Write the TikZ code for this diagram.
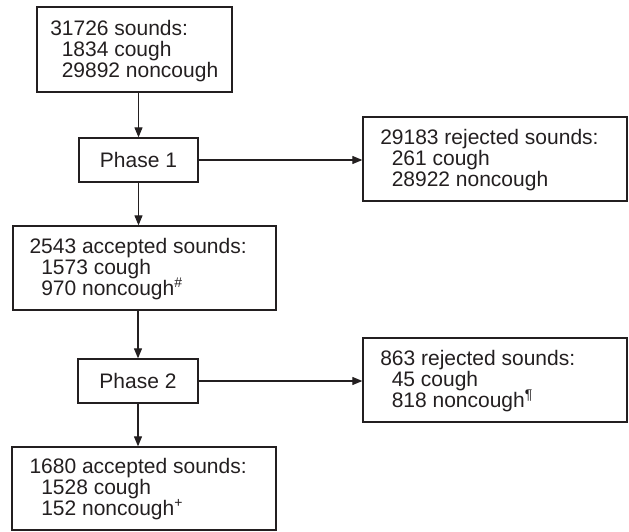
\documentclass[tikz,border=0pt]{standalone}
\usepackage{fontspec}
\setmainfont{Liberation Sans}
\usetikzlibrary{arrows.meta}
\definecolor{ink}{HTML}{231F20}
\tikzset{
  box/.style={draw=ink, line width=1.3pt, rectangle, inner sep=0pt},
  phasebox/.style={box, font=\fontsize{21}{21}\selectfont, text=ink},
  txt/.style={anchor=base west, inner sep=0pt, text=ink, font=\fontsize{21}{21}\selectfont},
  conn/.style={draw=ink, line width=1.1pt, -{Triangle[length=10pt,width=8pt]}}
}
\newcommand{\sups}[1]{\raisebox{8pt}{\fontsize{14}{14}\selectfont #1}}
\begin{document}
\begin{tikzpicture}[x=1pt,y=-1pt]
\useasboundingbox (0,0) rectangle (629,532);
% boxes
\node[box, minimum width=195pt, minimum height=85pt] (b1) at (134.5,49.5) {};
\node[phasebox, minimum width=119pt, minimum height=44pt] (p1) at (138.5,160) {Phase 1};
\node[box, minimum width=264pt, minimum height=84pt] (r1) at (495,159) {};
\node[box, minimum width=263pt, minimum height=84pt] (b2) at (144.5,268) {};
\node[phasebox, minimum width=120pt, minimum height=44pt] (p2) at (138,381) {Phase 2};
\node[box, minimum width=264pt, minimum height=84pt] (r2) at (495,380) {};
\node[box, minimum width=264pt, minimum height=83pt] (b3) at (144,488.5) {};
% texts
\node[txt] (b1a) at ([shift={(13.7,29)}]b1.north west) {31726 sounds:};
\node[txt] (b1b) at ([shift={(25.2,50)}]b1.north west) {1834 cough};
\node[txt] (b1c) at ([shift={(25.2,71)}]b1.north west) {29892 noncough};
\node[txt] (r1a) at ([shift={(17.7,28.5)}]r1.north west) {29183 rejected sounds:};
\node[txt] (r1b) at ([shift={(29.2,49.5)}]r1.north west) {261 cough};
\node[txt] (r1c) at ([shift={(29.2,70.5)}]r1.north west) {28922 noncough};
\node[txt] (b2a) at ([shift={(17,28.3)}]b2.north west) {2543 accepted sounds:};
\node[txt] (b2b) at ([shift={(28.7,49.3)}]b2.north west) {1573 cough};
\node[txt] (b2c) at ([shift={(28.7,70.3)}]b2.north west) {970 noncough\sups{\#}};
\node[txt] (r2a) at ([shift={(17.7,28.5)}]r2.north west) {863 rejected sounds:};
\node[txt] (r2b) at ([shift={(29.2,49.5)}]r2.north west) {45 cough};
\node[txt] (r2c) at ([shift={(29.2,70.5)}]r2.north west) {818 noncough\sups{¶}};
\node[txt] (b3a) at ([shift={(18,27.5)}]b3.north west) {1680 accepted sounds:};
\node[txt] (b3b) at ([shift={(29.7,48.5)}]b3.north west) {1528 cough};
\node[txt] (b3c) at ([shift={(29.7,69.5)}]b3.north west) {152 noncough\sups{+}};
% connectors
\draw[conn] (p1.north |- b1.south) -- (p1.north);
\draw[conn] (p1.east) -- (p1.east -| r1.west);
\draw[conn] (p1.south) -- (p1.south |- b2.north);
\draw[conn] (p2.north |- b2.south) -- (p2.north);
\draw[conn] (p2.east) -- (p2.east -| r2.west);
\draw[conn] (p2.south) -- (p2.south |- b3.north);
\end{tikzpicture}
\end{document}
